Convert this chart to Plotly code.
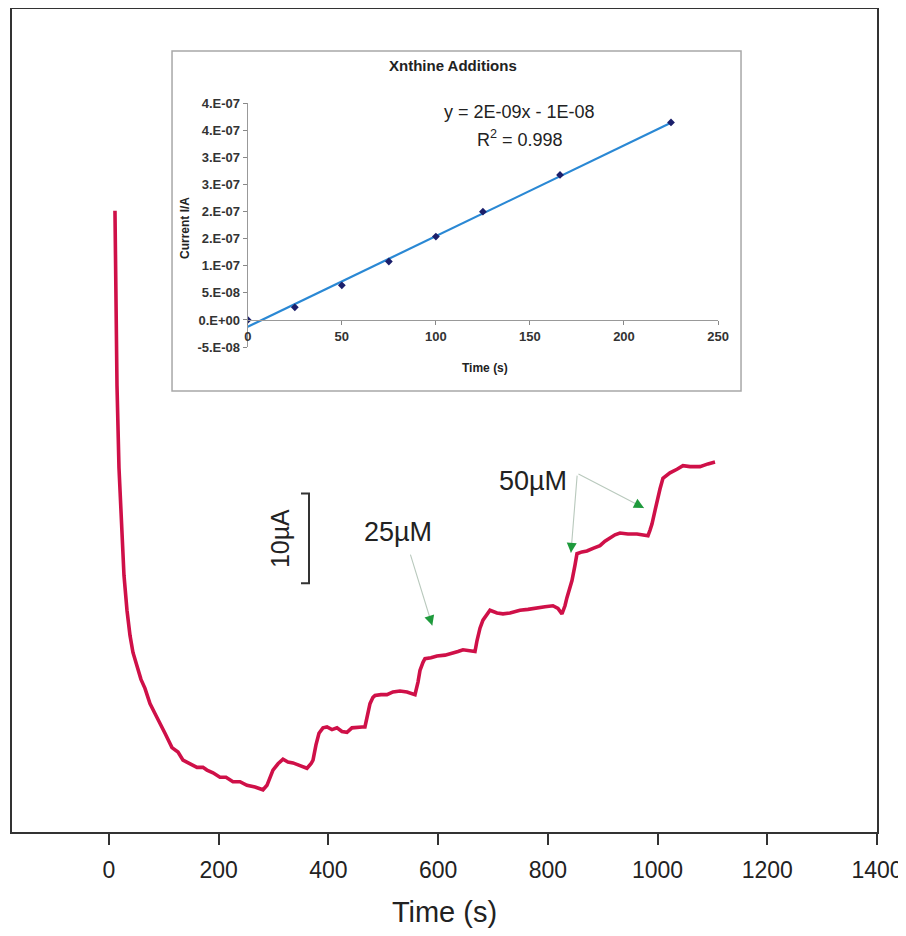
import numpy as np
import plotly.graph_objects as go

# ---------------- main amperometric trace (time in s, current in µA, arbitrary offset) ----------------
TIME_S = [10.9, 12.8, 14.6, 18.2, 22.8, 27.3, 32.8, 38.3, 43.7, 51.0, 58.3, 65.6, 74.7, 83.8, 93.0,
          102.1, 114.8, 125.8, 134.9, 147.6, 160.4, 171.3, 178.6, 189.6, 202.3, 213.3, 226.0, 238.8,
          251.5, 266.1, 280.7, 288.0, 293.5, 298.9, 308.1, 317.2, 326.3, 335.4, 348.2, 360.9, 368.2,
          371.9, 377.3, 382.8, 390.1, 397.4, 406.5, 415.6, 424.7, 433.8, 442.9, 452.1, 461.2, 466.6,
          472.1, 475.8, 481.2, 484.9, 495.8, 506.7, 517.7, 530.4, 543.2, 557.8, 563.3, 566.9, 572.4,
          576.0, 586.9, 597.9, 612.5, 627.1, 636.2, 645.3, 656.2, 667.2, 670.8, 676.3, 681.7, 689.0,
          694.5, 707.3, 718.2, 731.0, 749.2, 763.8, 780.2, 794.8, 809.3, 818.4, 825.7, 831.2, 834.8,
          840.3, 844.0, 849.4, 853.1, 862.2, 871.3, 882.3, 895.0, 904.1, 913.2, 922.4, 931.5, 946.0,
          962.4, 973.4, 982.5, 986.1, 989.8, 995.3, 998.9, 1004.4, 1009.8, 1022.6, 1035.4, 1046.3,
          1059.1, 1077.3, 1091.9, 1104.7]
CURRENT_UA = [69.2, 59.1, 49.7, 40.6, 33.8, 28.6, 24.7, 21.9, 20.0, 18.4, 17.0, 16.0, 14.3, 13.2, 12.0,
              11.0, 9.4, 8.9, 8.0, 7.6, 7.2, 7.2, 6.9, 6.6, 6.1, 6.1, 5.6, 5.6,
              5.2, 5.0, 4.7, 5.2, 6.2, 6.9, 7.6, 8.1, 7.8, 7.7, 7.4, 7.1, 7.6,
              8.0, 9.7, 11.0, 11.6, 11.7, 11.4, 11.6, 11.2, 11.1, 11.6, 11.7, 11.7, 11.7,
              13.3, 14.3, 15.0, 15.2, 15.3, 15.3, 15.6, 15.7, 15.6, 15.3, 16.7, 18.0, 18.9,
              19.3, 19.4, 19.6, 19.7, 19.9, 20.1, 20.3, 20.2, 20.1, 21.3, 22.7, 23.6, 24.3,
              24.7, 24.4, 24.3, 24.4, 24.7, 24.8, 25.0, 25.1, 25.2, 24.9, 24.3, 25.2, 26.1,
              27.1, 28.0, 29.7, 31.0, 31.2, 31.3, 31.6, 31.9, 32.4, 32.8, 33.1, 33.3, 33.2,
              33.2, 33.1, 33.0, 33.6, 34.3, 35.8, 36.9, 38.2, 39.4, 40.0, 40.4, 40.8,
              40.7, 40.7, 41.0, 41.2]
MAIN_X_TICKS = [0, 200, 400, 600, 800, 1000, 1200, 1400]
MAIN_X_RANGE = [-176.8, 1400]
MAIN_Y_RANGE = [0, 91.67]

# scale bar (µA)
SCALEBAR_BOTTOM_UA = 27.7
SCALEBAR_SIZE_UA = 10
SCALEBAR_TIME = 364.6

# additions annotations: text positions and arrow tips (time, current)
ADD_25_TEXT = (526.8, 33.4)
ADD_25_TIPS = [(589.3, 23.0)]
ADD_50_TEXT = (772.9, 39.1)
ADD_50_TIPS = [(842.1, 31.1), (975.2, 36.1)]

# ---------------- inset: Xanthine additions calibration ----------------
INSET_TIME = [0, 25, 50, 75, 100, 125, 166, 225]
INSET_CURRENT = [0.0, 2.34e-8, 6.4e-8, 1.08e-7, 1.54e-7, 2.0e-7, 2.68e-7, 3.65e-7]
INSET_Y_TICKVALS = [-5e-8, 0, 5e-8, 1e-7, 1.5e-7, 2e-7, 2.5e-7, 3e-7, 3.5e-7, 4e-7]
INSET_Y_TICKTEXT = ["-5.E-08", "0.E+00", "5.E-08", "1.E-07", "2.E-07", "2.E-07",
                    "3.E-07", "3.E-07", "4.E-07", "4.E-07"]
INSET_X_TICKS = [0, 50, 100, 150, 200, 250]
INSET_X_RANGE = [0, 250]
INSET_Y_RANGE = [-5e-8, 4e-7]

FONT = "Liberation Sans, Arial, Helvetica, sans-serif"
TRACE_COLOR = "#cf1048"

fig = go.Figure()

fig.add_trace(go.Scatter(x=TIME_S, y=CURRENT_UA, mode="lines",
                         line=dict(color=TRACE_COLOR, width=3.6), xaxis="x", yaxis="y",
                         showlegend=False, hoverinfo="skip"))

# inset trendline from a least-squares fit of the inset points
slope, icpt = np.polyfit(INSET_TIME, INSET_CURRENT, 1)
fit_x = np.array([min(INSET_TIME), max(INSET_TIME)])
fig.add_trace(go.Scatter(x=fit_x, y=slope * fit_x + icpt, mode="lines",
                         line=dict(color="#2a88d4", width=2.2), xaxis="x2", yaxis="y2",
                         showlegend=False, hoverinfo="skip"))
fig.add_trace(go.Scatter(x=INSET_TIME, y=INSET_CURRENT, mode="markers",
                         marker=dict(symbol="diamond", size=6, color="#1b1f6b"),
                         xaxis="x2", yaxis="y2", showlegend=False, hoverinfo="skip"))

# geometry (page has an 8px body margin)
W, H = 890, 920
ML, MR, MT, MB = 4, 21, 1, 96
inset_xdom = [0.2726, 0.8162]
inset_ydom = [0.5893, 0.8852]
zero_frac = (0 - INSET_Y_RANGE[0]) / (INSET_Y_RANGE[1] - INSET_Y_RANGE[0])
inset_xaxis_pos = inset_ydom[0] + zero_frac * (inset_ydom[1] - inset_ydom[0])


def inset_paper(xv, yv):
    """map inset data coordinates to paper coordinates"""
    px = inset_xdom[0] + (xv - INSET_X_RANGE[0]) / (INSET_X_RANGE[1] - INSET_X_RANGE[0]) * (inset_xdom[1] - inset_xdom[0])
    py = inset_ydom[0] + (yv - INSET_Y_RANGE[0]) / (INSET_Y_RANGE[1] - INSET_Y_RANGE[0]) * (inset_ydom[1] - inset_ydom[0])
    return px, py


inset_tickfont = dict(size=13, color="#333", family="Liberation Sans, Arial, sans-serif", weight="bold")

fig.update_layout(
    width=W, height=H,
    margin=dict(l=ML, r=MR, t=MT, b=MB, autoexpand=False),
    paper_bgcolor="white", plot_bgcolor="white",
    font=dict(family=FONT, color="#222"),
    xaxis=dict(range=MAIN_X_RANGE, tickvals=MAIN_X_TICKS, ticks="outside", ticklen=11,
               tickwidth=1.5, tickcolor="#333", showline=True, linecolor="#333", linewidth=2,
               mirror=True, showgrid=False, zeroline=False, ticklabeloverflow="allow",
               ticklabelstandoff=5, automargin=False,
               tickfont=dict(size=23, color="#222", family=FONT),
               title=dict(text="Time (s)", font=dict(size=29, color="#222", family=FONT),
                          standoff=37)),
    yaxis=dict(range=MAIN_Y_RANGE, showticklabels=False, ticks="", showline=True,
               linecolor="#333", linewidth=2, mirror=True, showgrid=False, zeroline=False,
               automargin=False),
    xaxis2=dict(domain=inset_xdom, range=INSET_X_RANGE, anchor="free", position=inset_xaxis_pos,
                tickvals=INSET_X_TICKS, ticks="outside", ticklen=4, tickcolor="#888",
                showline=True, linecolor="#999", linewidth=1.2, showgrid=False, zeroline=False,
                tickfont=inset_tickfont, automargin=False),
    yaxis2=dict(domain=inset_ydom, range=INSET_Y_RANGE, anchor="x2",
                tickvals=INSET_Y_TICKVALS, ticktext=INSET_Y_TICKTEXT, ticks="outside", ticklen=4,
                tickcolor="#888", showline=True, linecolor="#999", linewidth=1.2,
                showgrid=False, zeroline=False, tickfont=inset_tickfont, automargin=False),
)

# inset frame
fig.add_shape(type="rect", xref="paper", yref="paper", x0=0.185, x1=0.8428, y0=0.5358, y1=0.9491,
              line=dict(color="#a8a8a8", width=1.5), fillcolor="white", layer="below")

# scale bar bracket
sb_top = SCALEBAR_BOTTOM_UA + SCALEBAR_SIZE_UA
sb_left = SCALEBAR_TIME - 14.6
fig.add_shape(type="path", xref="x", yref="y",
              path=f"M {sb_left},{sb_top} L {SCALEBAR_TIME},{sb_top} L {SCALEBAR_TIME},{SCALEBAR_BOTTOM_UA} L {sb_left},{SCALEBAR_BOTTOM_UA}",
              line=dict(color="#333", width=2))

C = dict(xanchor="center", yanchor="middle")
ann = []
ann.append(dict(x=313, y=SCALEBAR_BOTTOM_UA + SCALEBAR_SIZE_UA / 2, xref="x", yref="y",
                text="10µA", textangle=-90, showarrow=False,
                font=dict(size=25, color="#222", family=FONT), **C))
ann.append(dict(x=ADD_25_TEXT[0], y=ADD_25_TEXT[1], xref="x", yref="y", text="25µM",
                showarrow=False, font=dict(size=27, color="#222", family=FONT), **C))
ann.append(dict(x=ADD_50_TEXT[0], y=ADD_50_TEXT[1], xref="x", yref="y", text="50µM",
                showarrow=False, font=dict(size=27, color="#222", family=FONT), **C))

arrow_offsets = [(ADD_25_TIPS[0], (-22.3, -72.3)),
                 (ADD_50_TIPS[0], (6.3, -78.7)),
                 (ADD_50_TIPS[1], (-67.0, -34.7))]
for (tx, ty), (ax, ay) in arrow_offsets:
    ann.append(dict(x=tx, y=ty, xref="x", yref="y", text="", showarrow=True, arrowhead=0,
                    ax=ax, ay=ay, arrowcolor="#b9c9bd", arrowwidth=1.1))
    L = (ax ** 2 + ay ** 2) ** 0.5
    ann.append(dict(x=tx, y=ty, xref="x", yref="y", text="", showarrow=True, arrowhead=2,
                    arrowsize=2.0, arrowwidth=1, ax=ax / L * 6, ay=ay / L * 6,
                    arrowcolor="#1e9a3c"))

# inset texts (positioned in inset data units, mapped to paper)
tx, ty = inset_paper(109, 4.70e-7)
ann.append(dict(x=tx, y=ty, xref="paper", yref="paper", text="<b>Xnthine Additions</b>",
                showarrow=False, font=dict(size=15, color="#222", family=FONT), **C))
tx, ty = inset_paper(144.7, 3.84e-7)
ann.append(dict(x=tx, y=ty, xref="paper", yref="paper", text="y = 2E-09x - 1E-08",
                showarrow=False, font=dict(size=18, color="#222", family=FONT), **C))
tx, ty = inset_paper(144.7, 3.35e-7)
ann.append(dict(x=tx, y=ty, xref="paper", yref="paper", text="R<sup>2</sup> = 0.998",
                showarrow=False, font=dict(size=18, color="#222", family=FONT), **C))
tx, ty = inset_paper(-33.1, 1.69e-7)
ann.append(dict(x=tx, y=ty, xref="paper", yref="paper", text="<b>Current I/A</b>",
                textangle=-90, showarrow=False, font=dict(size=12, color="#222", family=FONT), **C))
tx, ty = inset_paper(126.1, -8.9e-8)
ann.append(dict(x=tx, y=ty, xref="paper", yref="paper", text="<b>Time (s)</b>",
                showarrow=False, font=dict(size=12, color="#222", family=FONT), **C))

fig.update_layout(annotations=ann)

fig.write_html("out.html")
